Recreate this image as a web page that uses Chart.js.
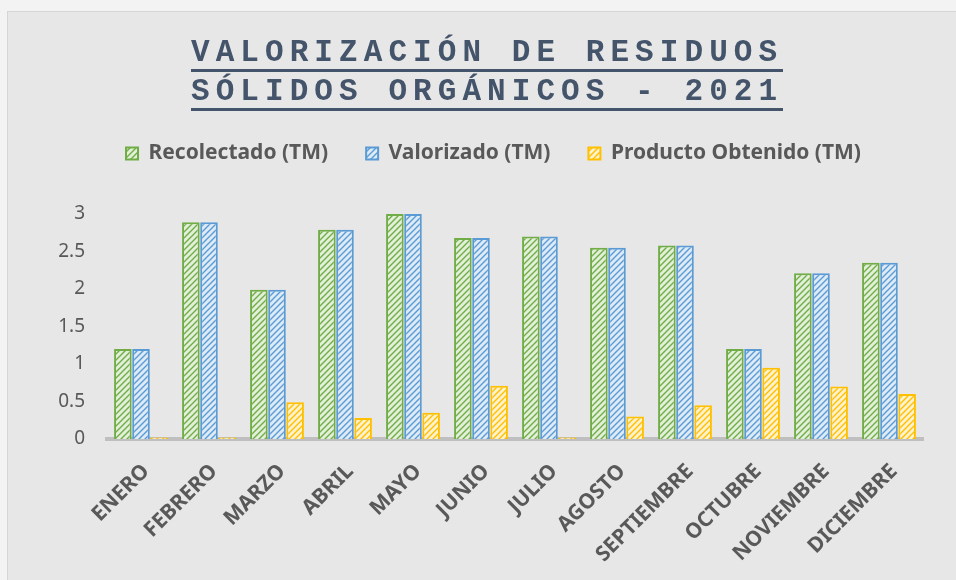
<!DOCTYPE html>
<html>
<head>
<meta charset="utf-8">
<script src="https://cdn.jsdelivr.net/npm/chart.js@4.4.1/dist/chart.umd.min.js"></script>
<style>
  html, body { margin:0; padding:0; background:#f3f3f3; width:956px; height:580px; overflow:hidden; }
  #box { position:absolute; left:7px; top:11px; width:949px; height:569px; background:#e7e7e7;
         border-left:1px solid #d6d6d6; border-top:1px solid #d6d6d6; box-sizing:border-box; }
  canvas { position:absolute; left:0; top:0; }
  .t { position:absolute; left:183px; width:592px; white-space:nowrap; font:bold 31px "Liberation Mono", monospace;
       letter-spacing:6.07px; line-height:28px; color:#44546a; padding-bottom:2px; border-bottom:3px solid #44546a; }
</style>
</head>
<body>
<div id="box">
  <canvas id="c" width="948" height="568"></canvas>
  <div class="t" id="t1" style="top:27px">VALORIZACIÓN DE RESIDUOS</div>
  <div class="t" id="t2" style="top:66px">SÓLIDOS ORGÁNICOS - 2021</div>
</div>
<script>
const categories = ['ENERO','FEBRERO','MARZO','ABRIL','MAYO','JUNIO','JULIO','AGOSTO','SEPTIEMBRE','OCTUBRE','NOVIEMBRE','DICIEMBRE'];
const recolectado = [1.2, 2.89, 1.99, 2.79, 3.0, 2.68, 2.7, 2.55, 2.58, 1.2, 2.21, 2.35];
const valorizado  = [1.2, 2.89, 1.99, 2.79, 3.0, 2.68, 2.7, 2.55, 2.58, 1.2, 2.21, 2.35];
const producto    = [0.02, 0.02, 0.49, 0.28, 0.35, 0.71, 0.02, 0.3, 0.45, 0.95, 0.7, 0.6];
const seriesNames = ['Recolectado (TM)', 'Valorizado (TM)', 'Producto Obtenido (TM)'];
const yTicks = [0, 0.5, 1, 1.5, 2, 2.5, 3];

function hatch(bg, fg) {
  const s = 6, p = document.createElement('canvas');
  p.width = s; p.height = s;
  const g = p.getContext('2d');
  g.fillStyle = bg; g.fillRect(0, 0, s, s);
  g.strokeStyle = fg; g.lineWidth = 1.4;
  g.beginPath();
  g.moveTo(-1, s + 1); g.lineTo(s + 1, -1);
  g.moveTo(-1, 1); g.lineTo(1, -1);
  g.moveTo(s - 1, s + 1); g.lineTo(s + 1, s - 1);
  g.stroke();
  return document.getElementById('c').getContext('2d').createPattern(p, 'repeat');
}

const greenP = hatch('#e2f0d9', '#70ad47');
const blueP = hatch('#ddebf7', '#5b9bd5');
const yellowP = hatch('#fff2cc', '#ffc000');

const legendGap = {
  id: 'legendGap',
  beforeInit(chart) {
    const fit = chart.legend.fit;
    chart.legend.fit = function () { fit.bind(chart.legend)(); this.height += 40; };
  },
  afterLayout(chart) {
    chart.legend.left += 28;
    chart.legend.right += 28;
  }
};

new Chart(document.getElementById('c'), {
  type: 'bar',
  data: {
    labels: categories,
    datasets: [
      { label: seriesNames[0], data: recolectado, backgroundColor: greenP, borderColor: '#70ad47', borderWidth: 2 },
      { label: seriesNames[1], data: valorizado, backgroundColor: blueP, borderColor: '#5b9bd5', borderWidth: 2 },
      { label: seriesNames[2], data: producto, backgroundColor: yellowP, borderColor: '#ffc000', borderWidth: 2 }
    ]
  },
  options: {
    responsive: false,
    devicePixelRatio: 1,
    animation: false,
    layout: { padding: { top: 93, right: 33, left: 0, bottom: 0 } },
    datasets: { bar: { categoryPercentage: 0.8, barPercentage: 0.97 } },
    plugins: {
      legend: {
        position: 'top',
        labels: {
          boxWidth: 12, boxHeight: 12, padding: 38,
          color: '#595959',
          font: { family: 'Noto Sans', size: 21, weight: 'bold' }
        }
      },
      tooltip: { enabled: false }
    },
    scales: {
      x: {
        grid: { display: false },
        border: { display: true, color: '#bfbfbf', width: 4 },
        ticks: {
          color: '#595959', maxRotation: 45, minRotation: 45, padding: 12, labelOffset: 5,
          font: { family: 'Noto Sans', size: 21, weight: 'bold' }
        },
        afterFit(scale) { scale.height = 141; }
      },
      y: {
        min: 0, max: 3,
        grid: { display: false },
        border: { display: false },
        afterBuildTicks(scale) { scale.ticks = yTicks.map(v => ({ value: v })); },
        ticks: {
          color: '#595959', padding: 14,
          font: { family: 'Noto Sans', size: 19 },
          callback: (v) => String(v)
        },
        afterFit(scale) { scale.width = 99; }
      }
    }
  },
  plugins: [legendGap]
});
</script>
</body>
</html>
